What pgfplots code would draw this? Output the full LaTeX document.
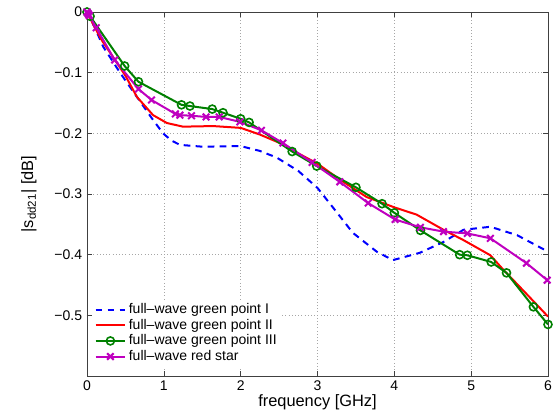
\documentclass[border=0pt]{standalone}
\usepackage{fontspec}
\setmainfont{Liberation Sans}
\usepackage{pgfplots}
\pgfplotsset{compat=1.18}
\definecolor{mgreen}{rgb}{0,0.5,0}
\definecolor{mmag}{rgb}{0.75,0,0.75}
\begin{document}
\fontsize{10.5}{12.6}\selectfont
\begin{tikzpicture}
\useasboundingbox (-65.25pt,-28.5pt) rectangle (352.5pt,282pt);
\begin{axis}[
  scale only axis, width=345.75pt, height=273pt,
  xmin=0, xmax=6, ymin=-0.6, ymax=0,
  xtick={0,1,2,3,4,5,6},
  ytick={-0.5,-0.4,-0.3,-0.2,-0.1,0},
  yticklabels={−0.5,−0.4,−0.3,−0.2,−0.1,0},
  /pgf/number format/assume math mode=true,
  tick align=inside, major tick length=3.5pt,
  axis line style={draw=black!75, line width=0.6pt},
  every tick/.style={black!75, line width=0.5pt},
  grid=major,
  major grid style={dotted, gray!70, line width=0.5pt},
  xlabel={frequency [GHz]},
  ylabel={|s\textsubscript{dd21}| [dB]},
  label style={font=\fontsize{12.3}{14}\selectfont},
  xlabel style={at={(axis description cs:0.5,-0.073)}, anchor=center},
  ylabel style={at={(axis description cs:-0.126,0.5)}, anchor=center},
  legend style={at={(0.013,0.025)}, anchor=south west, draw=none, fill=white,
    inner sep=1pt, row sep=-1.5pt, font=\fontsize{10.5}{12.6}\selectfont},
  legend cell align=left,
  legend image code/.code={\draw[mark repeat=2,mark phase=2] plot coordinates {(0cm,0cm) (0.39cm,0cm) (0.78cm,0cm)};},
]
\addplot[blue, dashed, line width=1.5pt, dash pattern=on 5pt off 4pt] coordinates {
(0,0) (0.1,-0.025) (0.21,-0.057) (0.43,-0.1) (0.65,-0.14) (0.86,-0.178) (0.99,-0.2)
(1.1,-0.212) (1.21,-0.219) (1.5,-0.222) (2.0,-0.221) (2.25,-0.229) (2.47,-0.24)
(2.75,-0.262) (3.0,-0.29) (3.2,-0.322) (3.46,-0.364) (3.77,-0.395) (3.98,-0.409)
(4.33,-0.397) (4.64,-0.379) (4.9,-0.359) (5.25,-0.354) (5.6,-0.368) (6.0,-0.395)};
\addlegendentry{full–wave green point I}
\addplot[red, line width=1.5pt] coordinates {
(0,0) (0.1,-0.025) (0.2,-0.048) (0.39,-0.084) (0.5,-0.105) (0.65,-0.14) (0.86,-0.17)
(1.04,-0.183) (1.25,-0.189) (1.64,-0.188) (2.0,-0.191) (2.25,-0.202) (2.51,-0.216)
(2.75,-0.233) (3.0,-0.25) (3.3,-0.277) (3.64,-0.305) (4.0,-0.322) (4.29,-0.334)
(4.64,-0.359) (4.9,-0.376) (5.25,-0.401) (5.42,-0.425) (5.7,-0.462) (6.0,-0.502)};
\addlegendentry{full–wave green point II}
\addplot[mgreen, line width=1.5pt, mark=o, mark size=3pt, mark options={line width=1.2pt}] coordinates {
(0,0) (0.04,-0.007) (0.49,-0.089) (0.67,-0.115) (1.23,-0.153) (1.34,-0.155)
(1.63,-0.16) (1.77,-0.166) (2.0,-0.176) (2.11,-0.182) (2.67,-0.23) (2.99,-0.254)
(3.5,-0.289) (3.84,-0.316) (4.0,-0.331) (4.34,-0.36) (4.85,-0.4) (4.95,-0.401)
(5.26,-0.412) (5.46,-0.43) (5.81,-0.486) (6.0,-0.515)};
\addlegendentry{full–wave green point III}
\addplot[mmag, line width=1.5pt, mark=x, mark size=3.5pt, mark options={line width=1.5pt}] coordinates {
(0,0) (0.01,-0.002) (0.02,-0.004) (0.03,-0.006) (0.12,-0.026) (0.36,-0.079)
(0.67,-0.127) (0.84,-0.145) (1.15,-0.168) (1.21,-0.17) (1.36,-0.171) (1.55,-0.173)
(1.72,-0.173) (1.99,-0.181) (2.27,-0.195) (2.55,-0.216) (2.93,-0.248) (3.29,-0.28)
(3.66,-0.315) (4.01,-0.342) (4.34,-0.355) (4.64,-0.362) (4.95,-0.365) (5.25,-0.373)
(5.72,-0.414) (5.99,-0.442)};
\addlegendentry{full–wave red star}
\end{axis}
\end{tikzpicture}
\end{document}
